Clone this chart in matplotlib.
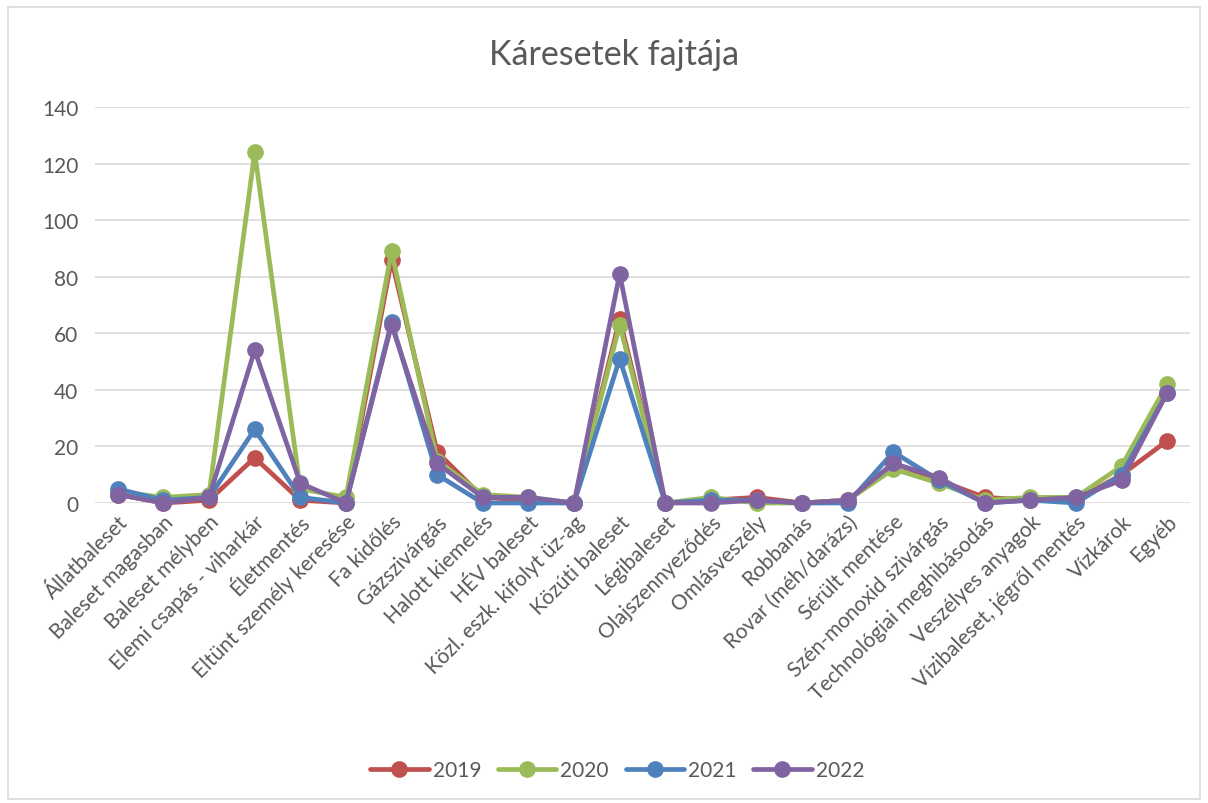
import numpy as np
import matplotlib.pyplot as plt
from matplotlib.patches import Rectangle

# Category labels (24 kinds of incidents)
categories = ["Állatbaleset", "Baleset magasban", "Baleset mélyben", "Elemi csapás - viharkár",
              "Életmentés", "Eltünt személy keresése", "Fa kidőlés", "Gázszivárgás",
              "Halott kiemelés", "HÉV baleset", "Közl. eszk. kifolyt üz-ag", "Közúti baleset",
              "Légibaleset", "Olajszennyeződés", "Omlásveszély", "Robbanás",
              "Rovar (méh/darázs)", "Sérült mentése", "Szén-monoxid szivárgás",
              "Technológiai meghibásodás", "Veszélyes anyagok", "Vízibaleset, jégről mentés",
              "Vízkárok", "Egyéb"]

# Values per year
y2019 = [3, 0, 1, 16, 1, 0, 86, 18, 2, 1, 0, 65, 0, 1, 2, 0, 1, 14, 8, 2, 1, 1, 10, 22]
y2020 = [4, 2, 3, 124, 5, 2, 89, 15, 3, 2, 0, 63, 0, 2, 0, 0, 1, 12, 7, 1, 2, 2, 13, 42]
y2021 = [5, 1, 2, 26, 2, 0, 64, 10, 0, 0, 0, 51, 0, 1, 1, 0, 0, 18, 8, 0, 1, 0, 10, 39]
y2022 = [3, 0, 2, 54, 7, 0, 63, 14, 2, 2, 0, 81, 0, 0, 1, 0, 1, 14, 9, 0, 1, 2, 8, 39]

series = [("2019", y2019, "#C0504D"), ("2020", y2020, "#9BBB59"),
          ("2021", y2021, "#4F81BD"), ("2022", y2022, "#8064A2")]

plt.rcParams['font.family'] = ['Lato', 'DejaVu Sans']
text_color = "#595959"

fig = plt.figure(figsize=(12.08, 8.04), dpi=100)
ax = fig.add_axes([95 / 1208, 1 - 504 / 804, 1095 / 1208, 396 / 804])

# outer chart border
fig.patches.append(Rectangle((8 / 1208, 4 / 804), 1192 / 1208, 792 / 804, transform=fig.transFigure,
                             fill=False, edgecolor="#d9d9d9", linewidth=1.2))

x = np.arange(len(categories))
for name, vals, col in series:
    ax.plot(x, vals, color=col, linewidth=3.4, marker='o', markersize=11,
            label=name, solid_joinstyle='round', solid_capstyle='round', clip_on=False)

ax.set_xlim(-0.5, len(categories) - 0.5)
ax.set_ylim(0, 140)
ax.set_yticks(np.arange(0, 141, 20))
ax.grid(axis='y', color="#d9d9d9", linewidth=1.2)
ax.set_axisbelow(True)
for s in ["top", "right", "left", "bottom"]:
    ax.spines[s].set_visible(False)
ax.tick_params(axis='both', length=0, labelsize=15, colors=text_color, pad=12)
ax.tick_params(axis='x', pad=6)
ax.set_xticks(x)
ax.set_xticklabels(categories, rotation=45, ha='right', rotation_mode='anchor')

fig.text(0.508, 1 - 55 / 804, "Káresetek fajtája", ha='center', va='center',
         fontsize=24.5, color=text_color)

leg = fig.legend(loc='center', bbox_to_anchor=(0.511, 1 - 771 / 804), ncol=4, frameon=False,
                 fontsize=15, handlelength=2.8, columnspacing=0.8, handletextpad=0.2)
for t in leg.get_texts():
    t.set_color(text_color)

fig.savefig("out.png", dpi=100)
